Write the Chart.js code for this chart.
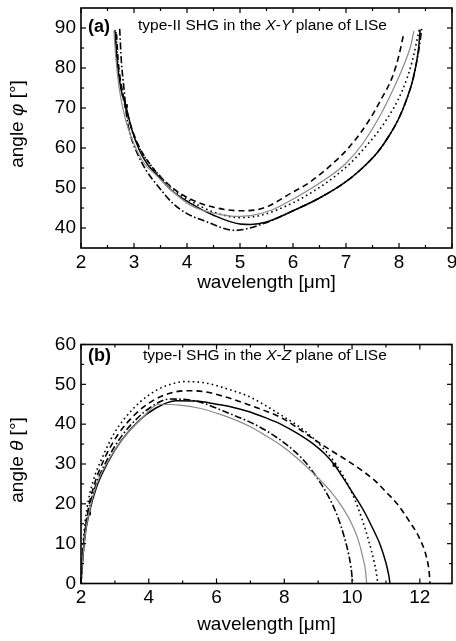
<!DOCTYPE html>
<html><head><meta charset="utf-8">
<script src="https://cdn.jsdelivr.net/npm/chart.js@4.4.0/dist/chart.umd.min.js"></script>
<style>
html,body{margin:0;padding:0;background:#fff;}
#wrap{position:relative;width:456px;height:641px;overflow:hidden;}
canvas{position:absolute;left:0;}
</style></head><body>
<div id="wrap">
<canvas id="c1" width="456" height="320" style="top:0;width:456px;height:320px"></canvas>
<canvas id="c2" width="456" height="321" style="top:320px;width:456px;height:321px"></canvas>
</div>
<script>
// ---------- Panel (a): type-II SHG in the X-Y plane, angle phi vs wavelength ----------
const xTicksA = [2,3,4,5,6,7,8,9];
const xMinorA = [2.5,3.5,4.5,5.5,6.5,7.5,8.5];
const yTicksA = [40,50,60,70,80,90];
const yMinorA = [45,55,65,75,85];

const aSolid = [[2.64,89.5],[2.68,82],[2.75,75],[2.85,70.3],[2.95,65],[3.1,59.5],[3.25,56],[3.42,53.5],[3.7,49.5],[4.05,46.3],[4.5,43.2],[5.0,41.0],[5.2,40.9],[5.5,41.5],[6.0,44.3],[6.5,47.5],[7.0,51.6],[7.31,55.0],[7.6,59],[7.81,63.0],[8.0,67.5],[8.12,71.3],[8.25,76.5],[8.31,80],[8.37,85],[8.4,89.6]];
const aGray = [[2.62,89.3],[2.66,82],[2.72,75],[2.8,69.3],[2.9,64.5],[3.05,59.5],[3.2,56],[3.42,53.2],[3.7,49.5],[4.05,45.8],[4.35,44.2],[4.67,43.3],[4.9,42.9],[5.2,43.1],[5.6,44.5],[6.0,47.2],[6.68,52.8],[7.0,56.2],[7.31,61.0],[7.68,69.0],[7.93,75.8],[8.12,81.7],[8.22,85.5],[8.28,89.2]];
const aDashed = [[2.67,88.5],[2.7,82],[2.77,75],[2.87,69],[2.98,64],[3.13,59.5],[3.3,56],[3.5,52.8],[3.8,49.3],[4.1,47],[4.5,45.2],[4.99,44.3],[5.4,44.8],[6.0,49.0],[6.3,51.3],[6.68,55.3],[7.06,60.2],[7.43,66.8],[7.68,72.6],[7.87,77.6],[8.0,83.2],[8.08,88]];
const aDotted = [[2.66,89],[2.69,82],[2.76,75],[2.86,69],[2.97,64],[3.12,59.5],[3.3,56],[3.5,52.8],[3.8,49],[4.1,46.5],[4.5,44],[5.0,42.6],[5.4,43.2],[6.0,46.3],[6.4,49.3],[6.68,51.8],[7.0,55.2],[7.31,59.4],[7.75,66.8],[8.06,74.3],[8.25,81.7],[8.38,89.5]];
const aDashDot = [[2.73,89.8],[2.76,82],[2.81,75],[2.86,68],[2.95,62.5],[3.05,59],[3.23,54.4],[3.45,50.5],[3.73,46.2],[4.0,43.6],[4.36,41.6],[4.9,39.4],[5.4,40.9],[6.0,44.3],[6.5,47.5],[7.0,51.6],[7.31,55.0],[7.6,59],[7.81,63.0],[8.0,67.5],[8.12,71.3],[8.25,76.5],[8.31,80],[8.38,85],[8.43,90]];
const aMarks = [[2.85,70.5]];

// ---------- Panel (b): type-I SHG in the X-Z plane, angle theta vs wavelength ----------
const xTicksB = [2,4,6,8,10,12];
const xMinorB = [3,5,7,9,11];
const yTicksB = [0,10,20,30,40,50,60];
const yMinorB = [5,15,25,35,45,55];

const bSolid = [[2.0,0],[2.05,6],[2.12,12],[2.24,17.6],[2.45,24],[2.8,30.5],[3.2,36],[3.7,40.8],[4.2,44],[4.8,45.9],[5.4,45.8],[6.0,45.0],[6.5,44.2],[6.94,43.2],[7.42,41.7],[7.92,39.9],[8.4,37.6],[8.89,34.8],[9.2,32.5],[9.48,29.8],[9.7,27.0],[10.0,23.0],[10.35,18.2],[10.6,14.0],[10.84,9.5],[11.0,5.2],[11.08,2.2],[11.12,0]];
const bGray = [[2.0,0],[2.05,6],[2.12,12],[2.24,18],[2.47,25],[2.85,31.5],[3.3,37],[3.8,41.5],[4.3,45.0],[4.9,44.8],[5.5,44.0],[6.2,42.2],[6.94,39.6],[7.42,37.3],[7.92,34.6],[8.4,31.3],[8.89,27.4],[9.38,23.0],[9.7,19.3],[9.96,15.5],[10.18,11],[10.32,6.5],[10.4,3],[10.43,0]];
const bDashed = [[2.0,0],[2.04,6],[2.1,12],[2.2,18],[2.4,25],[2.7,31.5],[3.1,37.5],[3.6,42.5],[4.1,45.8],[4.6,47.7],[5.1,48.4],[5.6,48.2],[6.2,47.0],[6.94,44.9],[7.42,43.4],[7.92,41.6],[8.4,39.0],[8.89,36.1],[9.38,33.4],[9.87,30.8],[10.35,28.0],[10.65,26.0],[11.0,23],[11.33,20],[11.7,15.5],[12.0,11.2],[12.2,6.5],[12.28,2.5],[12.3,0]];
const bDotted = [[2.0,0],[2.03,6],[2.08,12],[2.17,18.5],[2.35,25.5],[2.65,32],[3.0,38],[3.5,43.5],[4.0,47.3],[4.5,49.6],[5.1,50.7],[5.7,50.3],[6.3,48.9],[6.94,47.0],[7.42,44.8],[7.92,42.2],[8.4,39.6],[8.89,36.2],[9.38,31.6],[9.7,27.6],[10.06,21.5],[10.3,16],[10.5,10.5],[10.65,5.5],[10.72,2.5],[10.76,0]];
const bDashDot = [[2.0,0],[2.05,6],[2.11,12],[2.22,18],[2.45,25],[2.8,31.5],[3.2,37],[3.7,41.8],[4.1,44.5],[4.6,46.3],[5.1,46.2],[5.6,45.3],[6.2,43.3],[6.94,40.7],[7.42,38.6],[7.92,35.8],[8.5,31.6],[8.89,27.5],[9.38,20.6],[9.6,16.2],[9.77,11.7],[9.9,7.3],[9.97,4],[10.02,0]];
const bMarks = [[2.24,17.6],[9.48,29.8]];

// ---------- helpers ----------
const FONT = '"Liberation Sans", Arial, Helvetica, sans-serif';
const pts = arr => arr.map(p => ({x: p[0], y: p[1]}));

function lineDS(data, color, width, dash) {
  return {type: 'line', data: pts(data), borderColor: color, borderWidth: width,
    borderDash: dash, pointRadius: 0, fill: false, cubicInterpolationMode: 'monotone',
    borderCapStyle: 'butt', clip: 4};
}
function markDS(data) {
  return {type: 'scatter', data: pts(data), pointStyle: 'rect', pointRadius: 2.6,
    backgroundColor: '#000', borderColor: '#000', borderWidth: 0, showLine: false};
}

function drawRich(ctx, parts, x, y, align, rot) {
  ctx.save();
  ctx.translate(x, y);
  if (rot) ctx.rotate(rot);
  let total = 0;
  parts.forEach(p => { ctx.font = p.f; p.w = ctx.measureText(p.t).width; total += p.w; });
  let cx = align === 'center' ? -total / 2 : 0;
  ctx.textBaseline = 'middle'; ctx.textAlign = 'left'; ctx.fillStyle = '#000';
  parts.forEach(p => { ctx.font = p.f; ctx.fillText(p.t, cx, 0); cx += p.w; });
  ctx.restore();
}

const decor = {
  id: 'decor',
  afterDraw(chart, args, o) {
    const {ctx, chartArea: {left, right, top, bottom}, scales: {x, y}} = chart;
    ctx.save();
    ctx.strokeStyle = '#000';
    ctx.lineWidth = 1.6;
    ctx.strokeRect(left, top, right - left, bottom - top);
    ctx.lineWidth = 1.2;
    const seg = (x1, y1, x2, y2) => { ctx.beginPath(); ctx.moveTo(x1, y1); ctx.lineTo(x2, y2); ctx.stroke(); };
    const MAJ = 5, MIN = 3;
    o.xMajor.forEach(v => { const p = x.getPixelForValue(v); seg(p, bottom, p, bottom - MAJ); seg(p, top, p, top + MAJ); });
    o.xMinor.forEach(v => { const p = x.getPixelForValue(v); seg(p, bottom, p, bottom - MIN); seg(p, top, p, top + MIN); });
    o.yMajor.forEach(v => { const p = y.getPixelForValue(v); seg(left, p, left + MAJ, p); seg(right, p, right - MAJ, p); });
    o.yMinor.forEach(v => { const p = y.getPixelForValue(v); seg(left, p, left + MIN, p); seg(right, p, right - MIN, p); });
    ctx.restore();
    // panel label + title
    drawRich(ctx, [{t: o.label, f: 'bold 18px ' + FONT}], left + 7, top + o.titleDy, 'left');
    drawRich(ctx, o.title.map(s => ({t: s[0], f: (s[1] ? 'italic ' : '') + '15.5px ' + FONT})), o.titleX, top + o.titleDy - 1, 'left');
    // axis titles
    drawRich(ctx, o.ytitle.map(s => ({t: s[0], f: (s[1] ? 'italic ' : '') + '19px ' + FONT})), 18, (top + bottom) / 2 - 4, 'center', -Math.PI / 2);
    drawRich(ctx, [{t: 'wavelength [μm]', f: '19px ' + FONT}], (left + right) / 2, bottom + o.xtitleDy, 'center');
  }
};

function makeChart(id, datasets, xr, yr, xTicks, yTicks, xH, padTop, decorOpts) {
  const tickFont = {family: FONT, size: 19};
  return new Chart(document.getElementById(id), {
    data: {datasets},
    options: {
      responsive: false, animation: false, devicePixelRatio: 1,
      layout: {padding: {left: 0, right: 1, top: padTop, bottom: 0}},
      plugins: {legend: {display: false}, tooltip: {enabled: false}, decor: decorOpts},
      scales: {
        x: {type: 'linear', min: xr[0], max: xr[1],
          grid: {display: false, drawTicks: false, tickLength: 0}, border: {display: false},
          ticks: {font: tickFont, color: '#000', padding: 3, maxRotation: 0, autoSkip: false},
          afterBuildTicks: s => { s.ticks = xTicks.map(v => ({value: v})); },
          afterFit: s => { s.height = xH; s.paddingLeft = 0; s.paddingRight = 0; }},
        y: {type: 'linear', min: yr[0], max: yr[1],
          grid: {display: false, drawTicks: false, tickLength: 0}, border: {display: false},
          ticks: {font: tickFont, color: '#000', padding: 5, autoSkip: false},
          afterBuildTicks: s => { s.ticks = yTicks.map(v => ({value: v})); },
          afterFit: s => { s.width = 81; s.paddingTop = 0; s.paddingBottom = 0; }}
      }
    },
    plugins: [decor]
  });
}

const GRAY = '#8a8a8a';
makeChart('c1', [
  lineDS(aGray, GRAY, 1.2, []),
  lineDS(aDashed, '#000', 1.6, [6, 4]),
  lineDS(aDotted, '#000', 1.6, [1.6, 3.2]),
  lineDS(aDashDot, '#000', 1.6, [7, 2.5, 1.6, 2.5]),
  lineDS(aSolid, '#000', 1.5, []),
  markDS(aMarks)
], [2, 9], [35, 95], xTicksA, yTicksA, 72, 8, {
  xMajor: xTicksA, xMinor: xMinorA, yMajor: yTicksA, yMinor: yMinorA,
  label: '(a)', titleX: 138, titleDy: 19,
  title: [['type-II SHG in the ', 0], ['X', 1], ['-', 0], ['Y', 1], [' plane of LISe', 0]],
  ytitle: [['angle ', 0], ['φ', 1], [' [°]', 0]],
  xtitleDy: 35
});

makeChart('c2', [
  lineDS(bGray, GRAY, 1.2, []),
  lineDS(bDashed, '#000', 1.6, [6, 4]),
  lineDS(bDotted, '#000', 1.6, [1.6, 3.2]),
  lineDS(bDashDot, '#000', 1.6, [7, 2.5, 1.6, 2.5]),
  lineDS(bSolid, '#000', 1.5, []),
  markDS(bMarks)
], [2, 12.95], [0, 60], xTicksB, yTicksB, 321 - 263.5, 24.5, {
  xMajor: xTicksB, xMinor: xMinorB, yMajor: yTicksB, yMinor: yMinorB,
  label: '(b)', titleX: 143, titleDy: 12,
  title: [['type-I SHG in the ', 0], ['X', 1], ['-', 0], ['Z', 1], [' plane of LISe', 0]],
  ytitle: [['angle ', 0], ['θ', 1], [' [°]', 0]],
  xtitleDy: 41
});
</script>
</body></html>
